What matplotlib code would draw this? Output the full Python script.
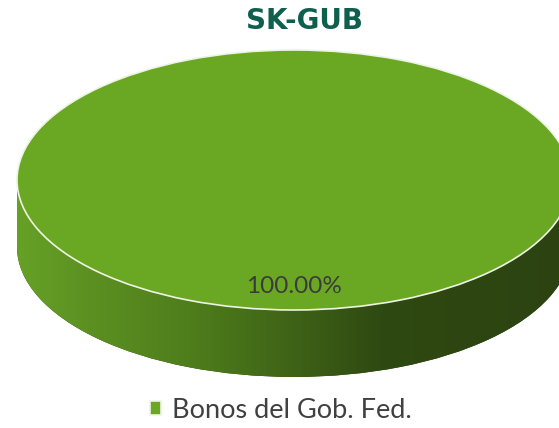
import numpy as np
import matplotlib.pyplot as plt
from matplotlib.colors import LinearSegmentedColormap
from matplotlib.patches import Rectangle

plt.rcParams["font.family"] = ["Lato", "DejaVu Sans"]

# datos
titulo = "SK-GUB"
categorias = ["Bonos del Gob. Fed."]
valores = [100.0]

verde = "#6aa824"
lado = ["#66a126", "#5a8e21", "#4d7b1b", "#3d6116", "#2f4912", "#2c4311"]
lado_pos = [0.0, 0.15, 0.33, 0.51, 0.66, 1.0]

fig = plt.figure(figsize=(5.59, 4.28), dpi=100)
ax = fig.add_axes([0, 0, 1, 1])

prof = 0.515  # espesor del pastel

# cara inferior + costado con degradado
base, _ = ax.pie(valores, center=(0, -prof), startangle=90, colors=[lado[-1]])
costado = Rectangle((-1, -prof), 2, prof, transform=ax.transData,
                    facecolor="none", edgecolor="none")
ax.add_patch(costado)
cmap = LinearSegmentedColormap.from_list("lado", list(zip(lado_pos, lado)))
grad = np.linspace(0, 1, 256).reshape(1, -1)
for clip in (base[0], costado):
    im = ax.imshow(grad, cmap=cmap, extent=(-1, 1, -1 - prof, 0),
                   aspect="auto", zorder=2, interpolation="bilinear")
    im.set_clip_path(clip)

# cara superior
tapa, textos, pct = ax.pie(valores, startangle=90, colors=[verde],
                           autopct="%.2f%%", pctdistance=0.817,
                           wedgeprops=dict(edgecolor="#eef4e4", linewidth=1.2),
                           textprops=dict(color="#3b3b3b", fontsize=17.5))
for w in tapa:
    w.set_zorder(3)
for t in pct:
    t.set_zorder(4)

ax.set_aspect("auto")
ax.set_xlim(-1.0614, 0.9567)
ax.set_ylim(-1.9077, 1.3846)
ax.axis("off")

fig.text(305 / 559, 1 - 21 / 428, titulo, ha="center", va="center",
         fontsize=20, fontweight="bold", color="#0f5f4f", family="DejaVu Sans")

ax.legend(tapa, categorias, loc="center", bbox_to_anchor=(281 / 559, 1 - 410 / 428),
          bbox_transform=fig.transFigure, frameon=False, handlelength=0.4,
          handleheight=0.4, handletextpad=0.4, fontsize=19.5, labelcolor="#404040")

fig.savefig("out.png", dpi=100)
